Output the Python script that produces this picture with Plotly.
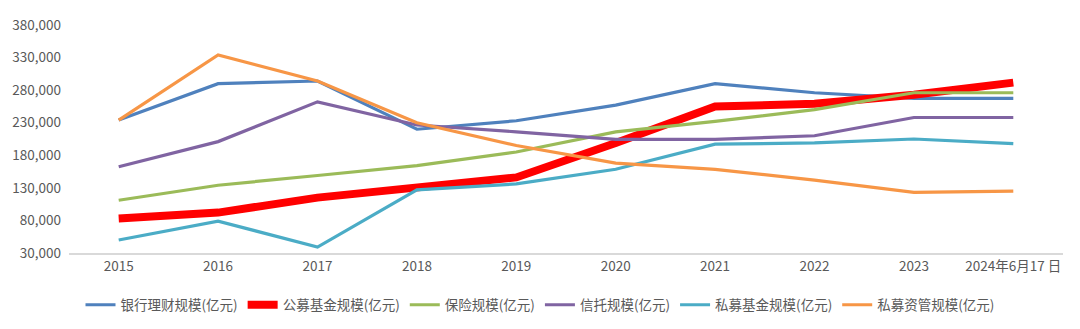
import plotly.graph_objects as go

years = ["2015", "2016", "2017", "2018", "2019", "2020", "2021", "2022", "2023", "2024年6月17 日"]

bank_wm = [234000, 290000, 294000, 220000, 233000, 257000, 290000, 276000, 267500, 267500]
mutual_fund = [83000, 92000, 115000, 132000, 146000, 199000, 255000, 259000, 273000, 291500]
insurance = [111000, 134000, 149000, 164000, 185000, 216000, 232000, 250000, 276000, 276000]
trust = [162500, 201000, 262000, 226500, 216000, 204500, 204500, 210000, 238000, 238000]
private_fund = [50000, 79000, 39000, 127000, 136000, 158500, 197000, 199000, 205000, 198000]
private_am = [234000, 334000, 294000, 230000, 195000, 168000, 158500, 142000, 123000, 125000]

series = [
    ("银行理财规模(亿元)", bank_wm, "#4f81bd", 3.2),
    ("公募基金规模(亿元)", mutual_fund, "#ff0000", 8),
    ("保险规模(亿元)", insurance, "#9bbb59", 3.2),
    ("信托规模(亿元)", trust, "#8064a2", 3.2),
    ("私募基金规模(亿元)", private_fund, "#4bacc6", 3.2),
    ("私募资管规模(亿元)", private_am, "#f79646", 3.2),
]

font_family = "Noto Sans CJK SC"

fig = go.Figure()
for name, vals, color, width in series:
    fig.add_trace(go.Scatter(
        x=years, y=vals, name=name, mode="lines",
        line=dict(color=color, width=width),
    ))

fig.update_layout(
    width=1080, height=329,
    margin=dict(l=69, r=17, t=25, b=76, autoexpand=False),
    paper_bgcolor="white", plot_bgcolor="white",
    font=dict(family=font_family, size=13.5, color="#595959"),
    showlegend=True,
    legend=dict(
        orientation="h", xref="container", x=0.5, xanchor="center",
        y=-0.228, yanchor="middle",
        font=dict(family=font_family, size=13.5, color="#595959"),
        itemwidth=30, tracegroupgap=0,
    ),
    xaxis=dict(
        type="category", showgrid=False, zeroline=False,
        showline=True, linecolor="#d9d9d9", linewidth=1.5,
        ticks="", tickfont=dict(size=13.5, color="#595959"),
        range=[-0.5, 9.5],
    ),
    yaxis=dict(
        range=[30000, 380000], dtick=50000, tick0=30000,
        showgrid=False, zeroline=False, showline=False,
        tickformat=",d", ticks="", ticklen=0, ticklabelstandoff=7,
        tickfont=dict(size=13.5, color="#595959"),
    ),
)

fig.write_html("out.html")
